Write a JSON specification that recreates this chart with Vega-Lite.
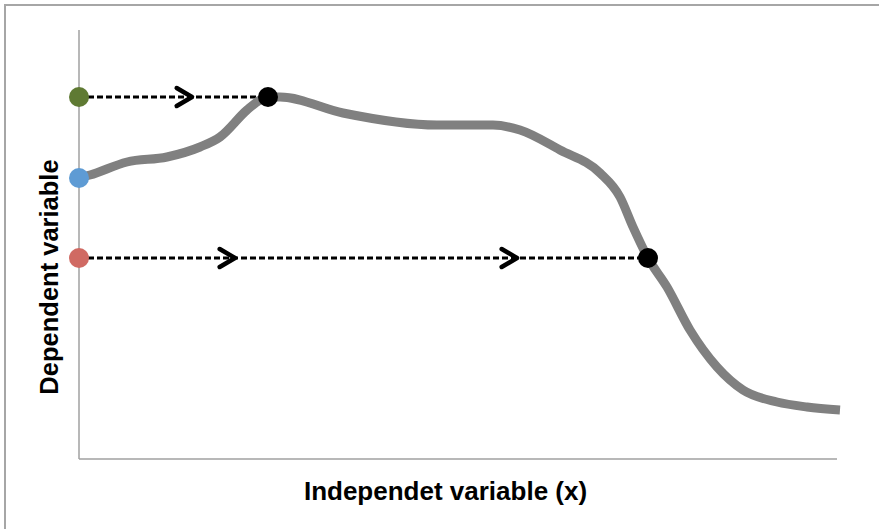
{
  "$schema": "https://vega.github.io/schema/vega-lite/v6.json",
  "autosize": {"type": "none"},
  "padding": {"left": 5, "top": 5, "right": -16, "bottom": -16},
  "width": 890,
  "height": 540,
  "background": "white",
  "config": {
    "view": {"stroke": "#a6a6a6", "strokeWidth": 2},
    "axis": {
      "titleFont": "Liberation Sans",
      "titleFontWeight": "bold",
      "titleColor": "black",
      "domain": false,
      "ticks": false,
      "labels": false,
      "grid": false
    }
  },
  "datasets": {
    "curve": [
      {"x": 0, "y": 281}, {"x": 11, "y": 284}, {"x": 48, "y": 297}, {"x": 88, "y": 302},
      {"x": 121, "y": 312}, {"x": 141, "y": 322}, {"x": 168, "y": 349}, {"x": 181, "y": 359},
      {"x": 189, "y": 362}, {"x": 201, "y": 362}, {"x": 264, "y": 346}, {"x": 358, "y": 334},
      {"x": 414, "y": 334}, {"x": 441, "y": 329}, {"x": 481, "y": 309}, {"x": 521, "y": 286},
      {"x": 541, "y": 262}, {"x": 554, "y": 232}, {"x": 569, "y": 201}, {"x": 588, "y": 172},
      {"x": 611, "y": 129}, {"x": 638, "y": 92}, {"x": 664, "y": 69}, {"x": 698, "y": 57},
      {"x": 728, "y": 52}, {"x": 761, "y": 49}
    ],
    "axes": [
      {"x": 0, "y": 0, "x2": 0, "y2": 429},
      {"x": 0, "y": 0, "x2": 758, "y2": 0}
    ],
    "guides": [
      {"x": 0, "x2": 189, "y": 362},
      {"x": 0, "x2": 569, "y": 201}
    ],
    "arrows": [
      {"x": 113, "y": 362},
      {"x": 156, "y": 201},
      {"x": 438, "y": 201}
    ],
    "starts": [
      {"x": 0, "y": 362, "level": "high"},
      {"x": 0, "y": 281, "level": "initial"},
      {"x": 0, "y": 201, "level": "low"}
    ],
    "hits": [
      {"x": 189, "y": 362},
      {"x": 569, "y": 201}
    ]
  },
  "encoding": {
    "x": {
      "field": "x", "type": "quantitative",
      "scale": {"domain": [-74, 816], "nice": false, "zero": false},
      "axis": {"title": "Independet variable (x)", "orient": "bottom", "titleFontSize": 26, "titleX": 440, "titleY": -46, "titleAlign": "center", "titleBaseline": "alphabetic", "titleAnchor": "middle"}
    },
    "y": {
      "field": "y", "type": "quantitative",
      "scale": {"domain": [-86, 454], "nice": false, "zero": false},
      "axis": {"title": "Dependent variable", "orient": "left", "titleFontSize": 25.5, "titleX": 52, "titleY": 271.5, "titleAngle": 270, "titleAlign": "center", "titleBaseline": "alphabetic", "titleAnchor": "middle"}
    }
  },
  "layer": [
    {
      "data": {"name": "axes"},
      "mark": {"type": "rule", "color": "#a0a0a0", "strokeWidth": 1.5},
      "encoding": {"x2": {"field": "x2"}, "y2": {"field": "y2"}}
    },
    {
      "data": {"name": "guides"},
      "mark": {"type": "rule", "color": "black", "strokeWidth": 3, "strokeDash": [6, 3]},
      "encoding": {"x2": {"field": "x2"}}
    },
    {
      "data": {"name": "curve"},
      "mark": {"type": "line", "color": "#808080", "strokeWidth": 9, "interpolate": "monotone", "strokeCap": "butt"},
      "encoding": {}
    },
    {
      "data": {"name": "arrows"},
      "mark": {"type": "point", "shape": "M -1.7 -1 L 0 0 L -1.7 1", "filled": false, "stroke": "black", "strokeWidth": 4.5, "size": 324, "opacity": 1, "strokeCap": "round", "strokeJoin": "round"}
    },
    {
      "data": {"name": "starts"},
      "mark": {"type": "point", "shape": "circle", "filled": true, "size": 400, "opacity": 1, "strokeWidth": 0},
      "encoding": {
        "color": {
          "field": "level", "type": "nominal",
          "scale": {"domain": ["high", "initial", "low"], "range": ["#5f7a33", "#5e9bd4", "#d06a63"]},
          "legend": null
        }
      }
    },
    {
      "data": {"name": "hits"},
      "mark": {"type": "point", "shape": "circle", "filled": true, "color": "black", "size": 400, "opacity": 1, "strokeWidth": 0}
    }
  ]
}
